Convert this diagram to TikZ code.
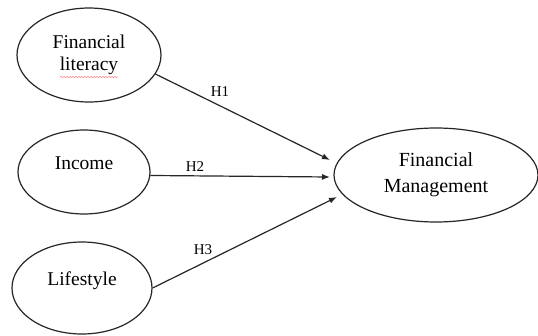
\documentclass[tikz,border=0pt]{standalone}
\usepackage{fontspec}
\setmainfont{Liberation Serif}
\usetikzlibrary{shapes.geometric,arrows.meta,decorations.pathmorphing}
\begin{document}
\begin{tikzpicture}[x=1pt,y=-1pt,
  ell/.style={draw=black!85, line width=1.2pt, ellipse, inner sep=0pt, align=center,
    font=\fontsize{19.5}{22}\selectfont, text=black},
  conn/.style={draw=black!85, line width=1.2pt, -{Latex[length=8pt,width=6pt]}},
  hlab/.style={font=\fontsize{15}{17}\selectfont, text=black, inner sep=0pt}]
\useasboundingbox (0,0) rectangle (538,335);
\fill[white] (0,0) rectangle (538,335);

\node[ell, minimum width=144pt, minimum height=94pt] (e1) at (89,55) {Financial\\literacy};
\node[ell, minimum width=132pt, minimum height=84pt, text depth=18pt] (e2) at (84,172) {Income};
\node[ell, minimum width=140pt, minimum height=92pt, text depth=18pt] (e3) at (82,288) {Lifestyle};
\node[ell, minimum width=204pt, minimum height=94pt, font=\fontsize{20}{26}\selectfont] (e4) at (436,175) {Financial\\Management};

\coordinate (t1) at (330,160);
\coordinate (t2) at (330,177);
\coordinate (t3) at (337,197);

\draw[conn] (e1.-16) -- (t1);
\draw[conn] (e2.-3) -- (t2);
\draw[conn] (e3.east) -- (t3);

\node[hlab] (h1) at (220,92) {H1};
\node[hlab] (h2) at (195,167) {H2};
\node[hlab] (h3) at (203,250) {H3};

\coordinate (w1) at (60,77);
\coordinate (w2) at (118,77);
\draw[red!45, line width=0.6pt, decorate, decoration={snake, amplitude=0.7pt, segment length=3pt}] (w1) -- (w2);
\end{tikzpicture}
\end{document}
